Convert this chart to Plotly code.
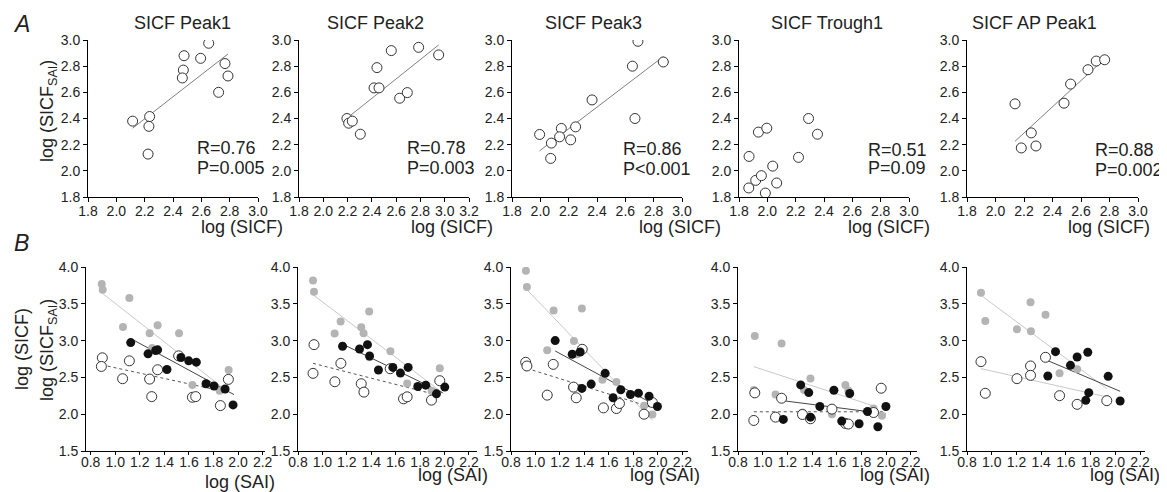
import plotly.graph_objects as go

W, H = 1167, 492
OFF = 8  # page body margin of the html document
FONT = "Liberation Sans, Arial, sans-serif"
TXT = "#222222"

# ---------------- Panel A data (log SICF vs log SICF_SAI) ----------------
titles_a = ["SICF Peak1", "SICF Peak2", "SICF Peak3", "SICF Trough1", "SICF AP Peak1"]
r_labels = ["R=0.76", "R=0.78", "R=0.86", "R=0.51", "R=0.88"]
p_labels = ["P=0.005", "P=0.003", "P<0.001", "P=0.09", "P=0.002"]

a1_x = [2.115, 2.235, 2.23, 2.224, 2.478, 2.473, 2.466, 2.595, 2.652, 2.767, 2.788, 2.722]
a1_y = [2.38, 2.415, 2.34, 2.128, 2.88, 2.77, 2.71, 2.86, 2.975, 2.82, 2.725, 2.60]
a1_fit_x = [2.115, 2.788]
a1_fit_y = [2.326, 2.893]

a2_x = [2.195, 2.209, 2.239, 2.305, 2.418, 2.459, 2.442, 2.56, 2.629, 2.692, 2.785, 2.95]
a2_y = [2.40, 2.364, 2.38, 2.28, 2.634, 2.634, 2.789, 2.919, 2.555, 2.598, 2.944, 2.886]
a2_fit_x = [2.212, 2.95]
a2_fit_y = [2.415, 2.962]

a3_x = [1.995, 2.078, 2.073, 2.148, 2.136, 2.214, 2.249, 2.365, 2.65, 2.668, 2.689, 2.868]
a3_y = [2.278, 2.212, 2.095, 2.324, 2.26, 2.237, 2.336, 2.542, 2.80, 2.40, 2.99, 2.832]
a3_fit_x = [1.995, 2.868]
a3_fit_y = [2.153, 2.873]

a4_x = [1.871, 1.869, 1.918, 1.958, 1.937, 1.996, 1.986, 2.038, 2.066, 2.22, 2.291, 2.354]
a4_y = [2.11, 1.869, 1.927, 1.963, 2.296, 2.326, 1.830, 2.036, 1.907, 2.103, 2.40, 2.28]
a4_fit_x = []
a4_fit_y = []

a5_x = [2.137, 2.181, 2.251, 2.284, 2.481, 2.527, 2.649, 2.707, 2.766]
a5_y = [2.512, 2.175, 2.29, 2.19, 2.517, 2.663, 2.773, 2.839, 2.849]
a5_fit_x = [2.137, 2.754]
a5_fit_y = [2.226, 2.844]

# annotation positions (data units)
rp_x = [2.558, 2.676, 2.572, 2.694, 2.684]
r_y = [2.174, 2.174, 2.17, 2.156, 2.157]
p_y = [2.021, 2.021, 2.017, 2.021, 2.01]

# ---------------- Panel B data (log SAI vs log SICF / log SICF_SAI) ----------------
# grey = log(SICF), black = log(SICF_SAI) subset, open = log(SICF_SAI)
b1_grey_x = [0.89, 0.898, 1.115, 1.063, 1.28, 1.345, 1.519, 1.30, 1.628, 1.923, 1.85]
b1_grey_y = [3.77, 3.69, 3.58, 3.185, 3.10, 3.207, 3.10, 2.90, 2.396, 2.60, 2.32]
b1_black_x = [1.126, 1.267, 1.329, 1.345, 1.421, 1.535, 1.598, 1.66, 1.739, 1.804, 1.894, 1.959]
b1_black_y = [2.973, 2.82, 2.865, 2.874, 2.608, 2.77, 2.725, 2.707, 2.414, 2.383, 2.342, 2.126]
b1_open_x = [0.895, 0.887, 1.115, 1.06, 1.28, 1.345, 1.297, 1.516, 1.628, 1.655, 1.856, 1.921]
b1_open_y = [2.766, 2.649, 2.725, 2.482, 2.477, 2.604, 2.239, 2.793, 2.23, 2.239, 2.117, 2.473]
b1_fit_grey = ([0.89, 1.92], [3.65, 2.30])
b1_fit_black = ([1.147, 1.967], [3.009, 2.266])
b1_fit_open = ([0.89, 1.907], [2.671, 2.30])

b2_grey_x = [0.923, 0.931, 1.10, 1.149, 1.318, 1.337, 1.383, 1.386, 1.557, 1.694, 1.961, 1.895]
b2_grey_y = [3.818, 3.664, 3.095, 3.259, 3.182, 3.10, 3.395, 2.773, 2.855, 2.418, 2.623, 2.314]
b2_black_x = [1.165, 1.304, 1.369, 1.386, 1.459, 1.577, 1.639, 1.702, 1.781, 1.846, 1.934, 2.002]
b2_black_y = [2.923, 2.886, 2.945, 2.791, 2.60, 2.636, 2.559, 2.636, 2.377, 2.395, 2.277, 2.368]
b2_open_x = [0.931, 0.923, 1.151, 1.102, 1.318, 1.34, 1.555, 1.664, 1.694, 1.893, 1.961]
b2_open_y = [2.945, 2.555, 2.691, 2.441, 2.414, 2.30, 2.618, 2.209, 2.236, 2.191, 2.455]
b2_fit_grey = ([0.923, 1.991], [3.623, 2.282])
b2_fit_black = ([1.168, 1.985], [2.95, 2.291])
b2_fit_open = ([0.923, 1.89], [2.691, 2.282])

b3_grey_x = [0.922, 0.93, 1.148, 1.379, 1.096, 1.314, 1.338, 1.547, 1.661, 1.683, 1.887, 1.955]
b3_grey_y = [3.95, 3.727, 3.409, 3.436, 2.868, 2.995, 2.814, 2.468, 2.436, 2.155, 2.114, 1.995]
b3_black_x = [1.161, 1.30, 1.365, 1.379, 1.455, 1.569, 1.634, 1.697, 1.776, 1.841, 1.928, 1.996]
b3_black_y = [3.0, 2.814, 2.845, 2.35, 2.409, 2.555, 2.223, 2.332, 2.268, 2.286, 2.245, 2.105]
b3_open_x = [0.92, 0.93, 1.145, 1.096, 1.311, 1.333, 1.382, 1.555, 1.661, 1.686, 1.887, 1.955]
b3_open_y = [2.705, 2.655, 2.677, 2.259, 2.368, 2.223, 2.882, 2.086, 2.077, 2.145, 2.0, 2.159]
b3_fit_grey = ([0.93, 1.955], [3.691, 1.918])
b3_fit_black = ([1.161, 1.99], [2.859, 2.114])
b3_fit_open = ([0.93, 1.95], [2.623, 2.091])

b4_grey_x = [0.936, 1.153, 0.928, 1.104, 1.322, 1.335, 1.387, 1.67, 1.694, 1.561, 1.898, 1.966]
b4_grey_y = [3.061, 2.962, 2.33, 2.267, 2.023, 2.33, 2.484, 2.398, 2.321, 2.001, 2.078, 1.978]
b4_black_x = [1.308, 1.373, 1.577, 1.705, 1.463, 1.387, 1.167, 1.64, 1.781, 1.849, 1.933, 1.998]
b4_black_y = [2.398, 2.294, 2.326, 2.281, 2.105, 1.96, 1.929, 1.906, 1.87, 2.037, 1.829, 2.105]
b4_open_x = [0.936, 0.928, 1.104, 1.153, 1.322, 1.387, 1.561, 1.67, 1.694, 1.898, 1.96]
b4_open_y = [2.29, 1.915, 1.96, 2.217, 1.996, 1.938, 2.069, 1.875, 1.866, 2.023, 2.353]
b4_fit_grey = ([0.928, 1.928], [2.646, 2.096])
b4_fit_black = ([1.153, 1.996], [2.186, 2.005])
b4_fit_open = ([0.928, 1.996], [2.033, 2.033])

b5_grey_x = [0.913, 0.948, 1.204, 1.314, 1.317, 1.435, 1.549, 1.691, 1.931]
b5_grey_y = [3.651, 3.266, 3.153, 3.52, 3.126, 3.352, 2.555, 2.61, 2.202]
b5_black_x = [1.516, 1.454, 1.637, 1.691, 1.777, 1.785, 1.761, 1.942, 2.039]
b5_black_y = [2.85, 2.519, 2.664, 2.777, 2.841, 2.293, 2.188, 2.514, 2.179]
b5_open_x = [0.913, 0.948, 1.204, 1.314, 1.314, 1.435, 1.549, 1.691, 1.931]
b5_open_y = [2.714, 2.284, 2.483, 2.655, 2.528, 2.773, 2.252, 2.134, 2.184]
b5_fit_grey = ([0.913, 1.931], [3.615, 2.347])
b5_fit_black = ([1.435, 2.039], [2.741, 2.311])
b5_fit_open = ([0.913, 1.931], [2.619, 2.234])

# ---------------- layout helpers ----------------
def px_x(p):
    return (p - OFF) / W

def px_y(p):
    return 1 - (p - OFF) / H

top_dom_px = [(88, 258), (299, 469), (512, 682), (739, 909), (967, 1138)]
top_xrange = [[1.8, 3.0], [1.8, 3.2], [1.8, 3.0], [1.8, 3.0], [1.8, 3.0]]
top_y_px = (40, 197)
bot_dom_px = [(86, 265), (298, 477), (511, 688), (738, 917), (967, 1145)]
bot_xrange = [[0.762, 2.219], [0.8, 2.266], [0.8, 2.246], [0.8, 2.25], [0.8, 2.24]]
bot_y_px = (267, 451)

title_cx = [182, 375, 593, 827, 1034]
xt_a_right = [285, 495, 723, 932, 1152]
xt_b_right = [277, 490, 702, 932, 1162]
xt_b_y = [482, 475, 475, 475, 475]

fig = go.Figure()

def axis_common():
    return dict(showline=True, linecolor="black", linewidth=1, ticks="outside",
                ticklen=4, tickwidth=1, tickcolor="black", showgrid=False,
                zeroline=False, automargin=False, mirror=False,
                tickfont=dict(family=FONT, size=14, color=TXT),
                tickformat=".1f")

layout = dict(template="none", width=W, height=H,
              margin=dict(l=0, r=0, t=0, b=0, pad=0, autoexpand=False),
              paper_bgcolor="white", plot_bgcolor="white", showlegend=False,
              hovermode=False, font=dict(family=FONT, color=TXT))

annotations = []

a_x = [a1_x, a2_x, a3_x, a4_x, a5_x]
a_y = [a1_y, a2_y, a3_y, a4_y, a5_y]
a_fx = [a1_fit_x, a2_fit_x, a3_fit_x, a4_fit_x, a5_fit_x]
a_fy = [a1_fit_y, a2_fit_y, a3_fit_y, a4_fit_y, a5_fit_y]

for i in range(5):
    n = i + 1
    xa = "x" if n == 1 else f"x{n}"
    ya = "y" if n == 1 else f"y{n}"
    xk = "xaxis" if n == 1 else f"xaxis{n}"
    yk = "yaxis" if n == 1 else f"yaxis{n}"
    ax = axis_common()
    ax.update(domain=[px_x(top_dom_px[i][0]), px_x(top_dom_px[i][1])],
              range=top_xrange[i], tick0=1.8, dtick=0.2, anchor=ya,
              ticklabelstandoff=-3)
    ay = axis_common()
    ay.update(domain=[px_y(top_y_px[1]), px_y(top_y_px[0])], range=[1.8, 3.0],
              tick0=1.8, dtick=0.2, anchor=xa)
    layout[xk] = ax
    layout[yk] = ay
    if a_fx[i]:
        fig.add_trace(go.Scatter(x=a_fx[i], y=a_fy[i], mode="lines",
                                 line=dict(color="#808080", width=1),
                                 xaxis=xa, yaxis=ya))
    fig.add_trace(go.Scatter(x=a_x[i], y=a_y[i], mode="markers",
                             marker=dict(symbol="circle", size=10, color="white",
                                         line=dict(color="#333333", width=1)),
                             xaxis=xa, yaxis=ya))
    annotations.append(dict(text=r_labels[i], x=rp_x[i], y=r_y[i], xref=xa, yref=ya,
                            xanchor="left", yanchor="middle", showarrow=False,
                            font=dict(family=FONT, size=18, color=TXT)))
    annotations.append(dict(text=p_labels[i], x=rp_x[i], y=p_y[i], xref=xa, yref=ya,
                            xanchor="left", yanchor="middle", showarrow=False,
                            font=dict(family=FONT, size=18, color=TXT)))
    annotations.append(dict(text=titles_a[i], x=px_x(title_cx[i]), y=px_y(23),
                            xref="paper", yref="paper", xanchor="center",
                            yanchor="middle", showarrow=False,
                            font=dict(family=FONT, size=18, color=TXT)))
    annotations.append(dict(text="log (SICF)", x=px_x(xt_a_right[i]), y=px_y(227),
                            xref="paper", yref="paper", xanchor="right",
                            yanchor="middle", showarrow=False,
                            font=dict(family=FONT, size=18, color=TXT)))

b_grey = [(b1_grey_x, b1_grey_y), (b2_grey_x, b2_grey_y), (b3_grey_x, b3_grey_y),
          (b4_grey_x, b4_grey_y), (b5_grey_x, b5_grey_y)]
b_black = [(b1_black_x, b1_black_y), (b2_black_x, b2_black_y), (b3_black_x, b3_black_y),
           (b4_black_x, b4_black_y), (b5_black_x, b5_black_y)]
b_open = [(b1_open_x, b1_open_y), (b2_open_x, b2_open_y), (b3_open_x, b3_open_y),
          (b4_open_x, b4_open_y), (b5_open_x, b5_open_y)]
b_fg = [b1_fit_grey, b2_fit_grey, b3_fit_grey, b4_fit_grey, b5_fit_grey]
b_fb = [b1_fit_black, b2_fit_black, b3_fit_black, b4_fit_black, b5_fit_black]
b_fo = [b1_fit_open, b2_fit_open, b3_fit_open, b4_fit_open, b5_fit_open]

for i in range(5):
    n = i + 6
    xa, ya = f"x{n}", f"y{n}"
    ax = axis_common()
    ax.update(domain=[px_x(bot_dom_px[i][0]), px_x(bot_dom_px[i][1])],
              range=bot_xrange[i], tick0=0.8, dtick=0.2, anchor=ya, ticklen=3,
              ticklabelstandoff=-5)
    ay = axis_common()
    ay.update(domain=[px_y(bot_y_px[1]), px_y(bot_y_px[0])], range=[1.5, 4.0],
              tick0=1.5, dtick=0.5, anchor=xa)
    layout[f"xaxis{n}"] = ax
    layout[f"yaxis{n}"] = ay
    # regression lines
    fig.add_trace(go.Scatter(x=b_fg[i][0], y=b_fg[i][1], mode="lines",
                             line=dict(color="#c8c8c8", width=1), xaxis=xa, yaxis=ya))
    if i == 4:
        open_line = dict(color="#c8c8c8", width=1)
    else:
        open_line = dict(color="#555555", width=1, dash="dot")
    fig.add_trace(go.Scatter(x=b_fo[i][0], y=b_fo[i][1], mode="lines",
                             line=open_line, xaxis=xa, yaxis=ya))
    fig.add_trace(go.Scatter(x=b_fb[i][0], y=b_fb[i][1], mode="lines",
                             line=dict(color="#444444", width=1), xaxis=xa, yaxis=ya))
    # points
    fig.add_trace(go.Scatter(x=b_grey[i][0], y=b_grey[i][1], mode="markers",
                             marker=dict(symbol="circle", size=8, color="#b4b4b4",
                                         line=dict(width=0)),
                             xaxis=xa, yaxis=ya))
    fig.add_trace(go.Scatter(x=b_open[i][0], y=b_open[i][1], mode="markers",
                             marker=dict(symbol="circle", size=10, color="white",
                                         line=dict(color="#333333", width=1)),
                             xaxis=xa, yaxis=ya))
    fig.add_trace(go.Scatter(x=b_black[i][0], y=b_black[i][1], mode="markers",
                             marker=dict(symbol="circle", size=9, color="#111111",
                                         line=dict(width=0)),
                             xaxis=xa, yaxis=ya))
    annotations.append(dict(text="log (SAI)", x=px_x(xt_b_right[i]), y=px_y(xt_b_y[i]),
                            xref="paper", yref="paper", xanchor="right",
                            yanchor="middle", showarrow=False,
                            font=dict(family=FONT, size=18, color=TXT)))

# y axis titles and panel letters
annotations.append(dict(text="log (SICF<sub>SAI</sub>)", x=px_x(48), y=px_y(111),
                        xref="paper", yref="paper", textangle=-90, showarrow=False,
                        xanchor="center", yanchor="middle",
                        font=dict(family=FONT, size=18, color=TXT)))
annotations.append(dict(text="log (SICF)", x=px_x(22), y=px_y(349),
                        xref="paper", yref="paper", textangle=-90, showarrow=False,
                        xanchor="center", yanchor="middle",
                        font=dict(family=FONT, size=18, color=TXT)))
annotations.append(dict(text="log (SICF<sub>SAI</sub>)", x=px_x(48), y=px_y(350),
                        xref="paper", yref="paper", textangle=-90, showarrow=False,
                        xanchor="center", yanchor="middle",
                        font=dict(family=FONT, size=18, color=TXT)))
annotations.append(dict(text="<i>A</i>", x=px_x(21), y=px_y(24), xref="paper",
                        yref="paper", showarrow=False, xanchor="center",
                        yanchor="middle", font=dict(family=FONT, size=23, color=TXT)))
annotations.append(dict(text="<i>B</i>", x=px_x(21), y=px_y(243), xref="paper",
                        yref="paper", showarrow=False, xanchor="center",
                        yanchor="middle", font=dict(family=FONT, size=23, color=TXT)))

layout["annotations"] = annotations
fig.update_layout(**layout)
fig.write_html("out.html")
